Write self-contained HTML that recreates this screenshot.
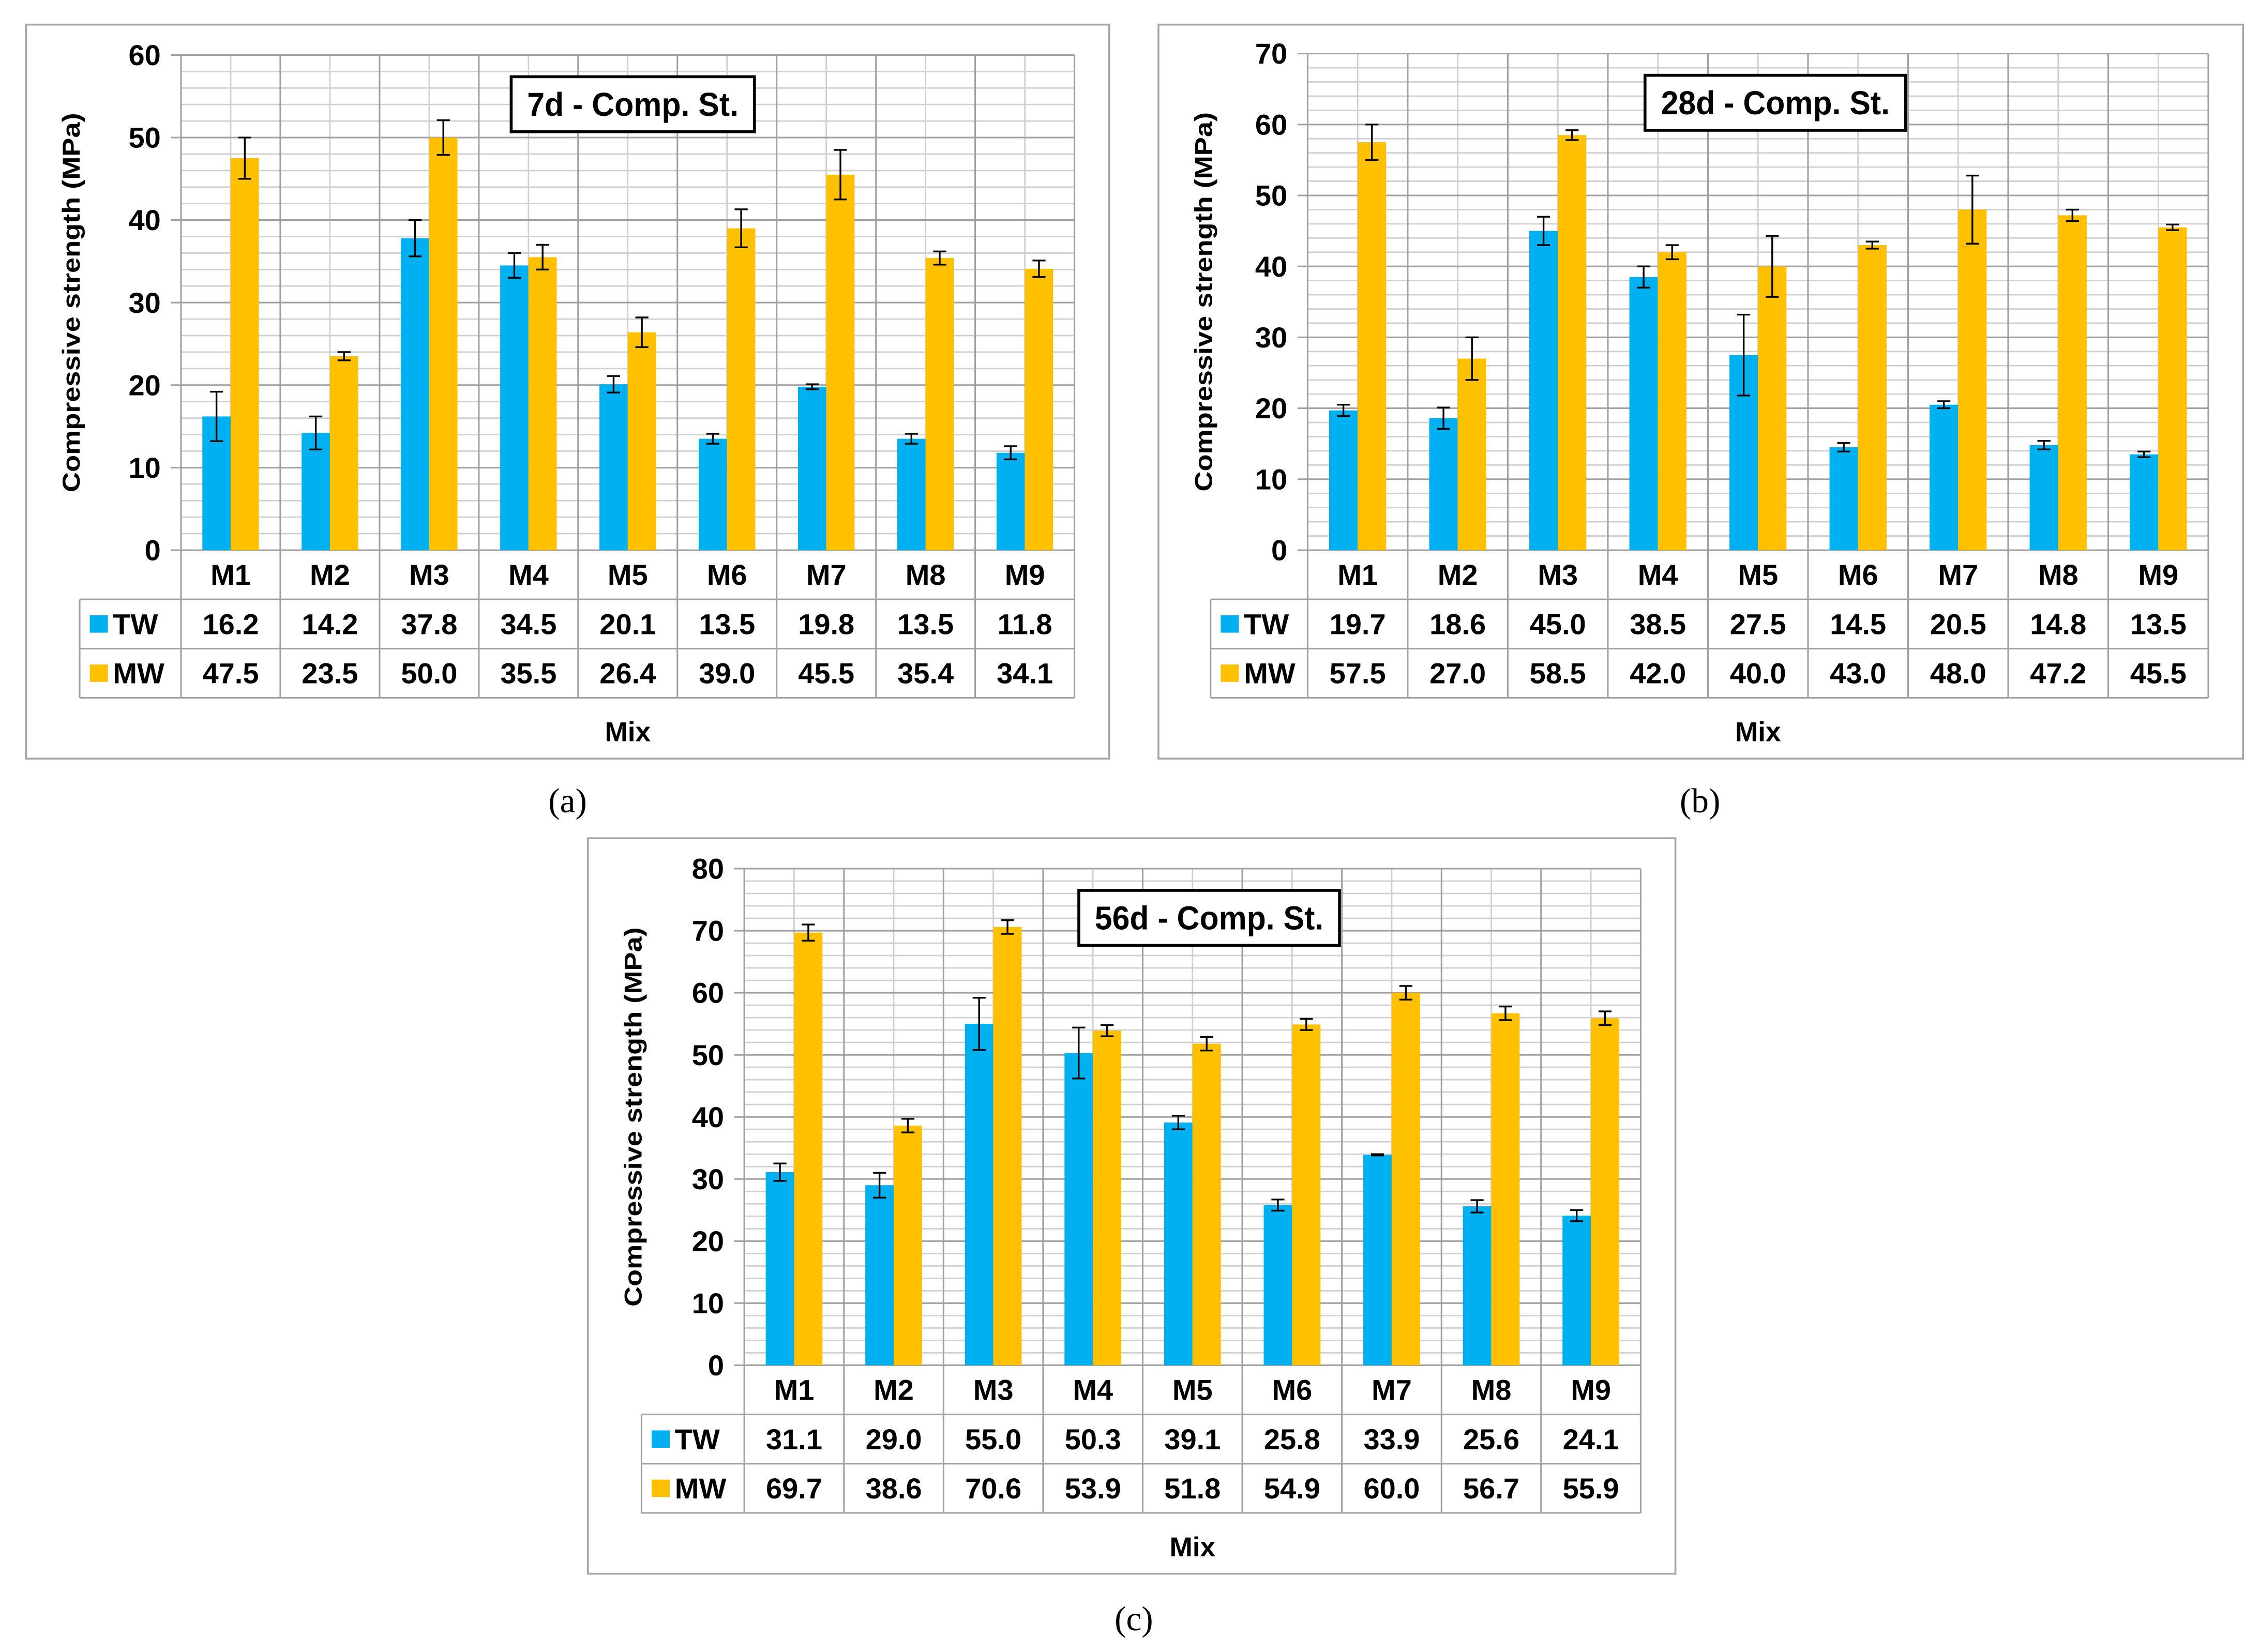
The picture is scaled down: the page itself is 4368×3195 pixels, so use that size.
<!DOCTYPE html>
<html><head><meta charset="utf-8"><style>
html,body{margin:0;padding:0;background:#fff;}
svg{display:block;}
text{font-family:"Liberation Sans",sans-serif;font-weight:bold;fill:#000;}
</style></head>
<body>
<svg id="fig" xmlns="http://www.w3.org/2000/svg" width="4368" height="3195" viewBox="0 0 1560 1141.07">
<rect x="0" y="0" width="1560" height="1141.07" fill="#fff"/>
</svg>
<script>
const categories = ["M1","M2","M3","M4","M5","M6","M7","M8","M9"];
const tw7 = [16.2,14.2,37.8,34.5,20.1,13.5,19.8,13.5,11.8];
const mw7 = [47.5,23.5,50.0,35.5,26.4,39.0,45.5,35.4,34.1];
const tw7err = [3,2,2.2,1.5,1,0.6,0.3,0.6,0.8];
const mw7err = [2.5,0.5,2.1,1.5,1.8,2.3,3,0.8,1];
const tw28 = [19.7,18.6,45.0,38.5,27.5,14.5,20.5,14.8,13.5];
const mw28 = [57.5,27.0,58.5,42.0,40.0,43.0,48.0,47.2,45.5];
const tw28err = [0.8,1.5,2,1.5,5.7,0.6,0.5,0.6,0.4];
const mw28err = [2.5,3,0.7,1,4.3,0.5,4.8,0.8,0.4];
const tw56 = [31.1,29.0,55.0,50.3,39.1,25.8,33.9,25.6,24.1];
const mw56 = [69.7,38.6,70.6,53.9,51.8,54.9,60.0,56.7,55.9];
const tw56err = [1.4,2,4.2,4.1,1.1,0.9,0.1,1,0.9];
const mw56err = [1.3,1.1,1.1,0.9,1.1,0.9,1.1,1.1,1.1];
const ticks7 = [0,10,20,30,40,50,60];
const ticks28 = [0,10,20,30,40,50,60,70];
const ticks56 = [0,10,20,30,40,50,60,70,80];

const NS="http://www.w3.org/2000/svg";
const svg=document.getElementById('fig');
function mk(tag,attrs,parent,txt){const e=document.createElementNS(NS,tag);for(const k in attrs)e.setAttribute(k,attrs[k]);if(txt!==undefined)e.textContent=txt;(parent||svg).appendChild(e);return e;}

function panel(cfg){
  const g=mk('g',{});
  
  
  const fr=mk('rect',{x:cfg.fx0,y:cfg.fy0,width:cfg.fx1-cfg.fx0,height:cfg.fy1-cfg.fy0,fill:'none',stroke:'#a6a6a6','stroke-width':1.3},g);
  
  
  const L=cfg.px0,R=cfg.px1,T=cfg.py0,B=cfg.py1;
  const n=categories.length, cw=(R-L)/n;
  const ymax=cfg.ticks[cfg.ticks.length-1];
  const y=v=>B-(v/ymax)*(B-T);
  const xc=i=>L+cw*(i+0.5);
  for(let v=2;v<ymax;v+=2){ if(v%10===0) continue;
    const l=mk('line',{x1:L,x2:R,y1:y(v),y2:y(v),stroke:'#d0d0d0','stroke-width':1},g);
    
    
  }
  for(let i=0;i<n;i++){
    const l=mk('line',{x1:xc(i),x2:xc(i),y1:T,y2:B,stroke:'#d0d0d0','stroke-width':1},g);
    
    
  }
  cfg.ticks.forEach(v=>{
    const l=mk('line',{x1:L-7,x2:R,y1:y(v),y2:y(v),stroke:'#a0a0a0','stroke-width':1.1},g);
    
    
    const t=mk('text',{x:L-14,y:y(v)+7,'text-anchor':'end','font-size':20},g,String(v));
    
    
  });
  const r0=B, r1=B+34, r2=B+68, r3=B+102;
  for(let i=0;i<=n;i++){
    const x=L+cw*i;
    const l=mk('line',{x1:x,x2:x,y1:T,y2:r3,stroke:'#a0a0a0','stroke-width':1.1},g);
    
    
  }
  [[L,r0],[cfg.tx,r1],[cfg.tx,r2],[cfg.tx,r3]].forEach(p=>{
    const l=mk('line',{x1:p[0],x2:R,y1:p[1],y2:p[1],stroke:'#a0a0a0','stroke-width':1.1},g);
    
    
  });
  const tl=mk('line',{x1:cfg.tx,x2:cfg.tx,y1:r1,y2:r3,stroke:'#a0a0a0','stroke-width':1.1},g);
  
  
  const bw=cw*0.285;
  const series=[{d:cfg.tw,e:cfg.twe,c:'#00B0F0',off:-bw,nm:'tw'},{d:cfg.mw,e:cfg.mwe,c:'#FFC000',off:0,nm:'mw'}];
  series.forEach(s=>{
    s.d.forEach((v,i)=>{
      const b=mk('rect',{x:xc(i)+s.off,y:y(v),width:bw,height:B-y(v),fill:s.c},g);
      
      
    });
  });
  series.forEach(s=>{
    s.d.forEach((v,i)=>{
      const cx=xc(i)+s.off+bw/2, hi=y(v+s.e[i]), lo=y(v-s.e[i]);
      const p=mk('path',{d:`M${cx},${hi}V${lo}M${cx-4.5},${hi}H${cx+4.5}M${cx-4.5},${lo}H${cx+4.5}`,stroke:'#000','stroke-width':1.2,fill:'none'},g);
      
      
    });
  });
  categories.forEach((c,i)=>{
    const t=mk('text',{x:xc(i),y:r0+24,'text-anchor':'middle','font-size':20},g,c);
    
    
    const a=mk('text',{x:xc(i),y:r1+24,'text-anchor':'middle','font-size':20},g,cfg.tw[i].toFixed(1));
    
    
    const b=mk('text',{x:xc(i),y:r2+24,'text-anchor':'middle','font-size':20},g,cfg.mw[i].toFixed(1));
    
    
  });
  const s1=mk('rect',{x:cfg.tx+7,y:r1+11,width:12.5,height:12,fill:'#00B0F0'},g);
  
  
  const s2=mk('rect',{x:cfg.tx+7,y:r2+11,width:12.5,height:12,fill:'#FFC000'},g);
  
  
  const l1=mk('text',{x:cfg.tx+23,y:r1+24,'font-size':20},g,'TW');
  
  
  const l2=mk('text',{x:cfg.tx+23,y:r2+24,'font-size':20},g,'MW');
  
  
  const yt=mk('text',{x:0,y:0,'text-anchor':'middle','font-size':17,transform:`translate(${cfg.fx0+37},${(T+B)/2}) rotate(-90)`,textLength:262,lengthAdjust:'spacingAndGlyphs'},g,'Compressive strength (MPa)');
  
  
  const xt=mk('text',{x:(L+R)/2,y:r3+30,'text-anchor':'middle','font-size':19},g,'Mix');
  
  
  const tb=mk('rect',{x:cfg.bx,y:T+15,width:cfg.bw,height:38,fill:'#fff',stroke:'#000','stroke-width':2},g);
  
  
  const tt=mk('text',{x:cfg.bx+cfg.bw/2,y:T+42,'text-anchor':'middle','font-size':23,textLength:cfg.bw-22,lengthAdjust:'spacingAndGlyphs'},g,cfg.title);
  
  
  const cap=mk('text',{x:cfg.capx,y:cfg.capy,'text-anchor':'middle','font-size':24,style:'font-family:"Liberation Serif",serif;font-weight:normal'},g,cfg.cap);
  
  
}

panel({id:'7d',fx0:18,fy0:17,fx1:766,fy1:524,px0:125,px1:742,py0:38,py1:380,tx:55,ticks:ticks7,tw:tw7,mw:mw7,twe:tw7err,mwe:mw7err,title:'7d - Comp. St.',bx:353,bw:168,cap:'(a)',capx:392,capy:561});
panel({id:'28d',fx0:800,fy0:17,fx1:1549,fy1:524,px0:903,px1:1525,py0:37,py1:380,tx:836,ticks:ticks28,tw:tw28,mw:mw28,twe:tw28err,mwe:mw28err,title:'28d - Comp. St.',bx:1136,bw:180,cap:'(b)',capx:1174,capy:561});
panel({id:'56d',fx0:406,fy0:579,fx1:1157,fy1:1087,px0:514,px1:1133,py0:600,py1:943,tx:443,ticks:ticks56,tw:tw56,mw:mw56,twe:tw56err,mwe:mw56err,title:'56d - Comp. St.',bx:745,bw:180,cap:'(c)',capx:783,capy:1126});
</script>
</body></html>
